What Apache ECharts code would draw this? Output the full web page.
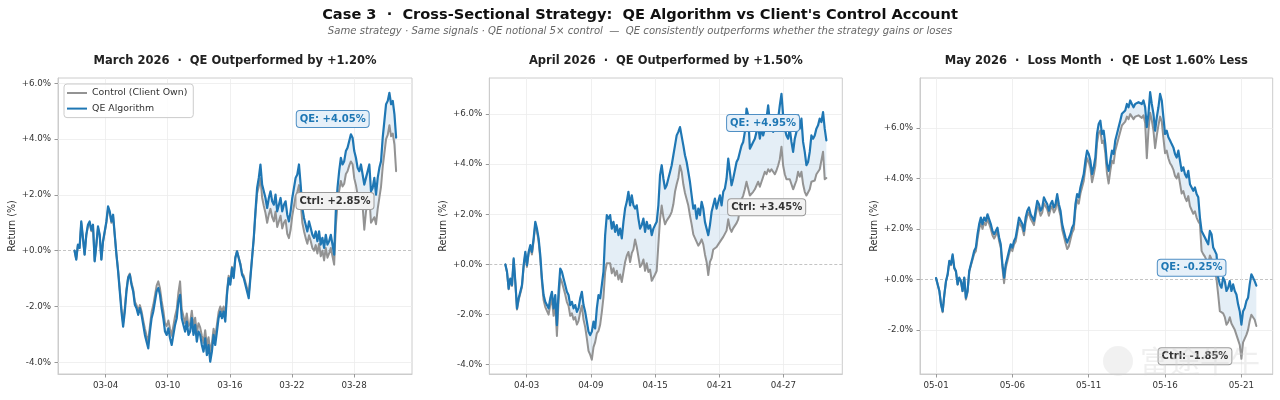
<!DOCTYPE html>
<html><head><meta charset="utf-8">
<script src="https://cdn.jsdelivr.net/npm/echarts@6/dist/echarts.min.js"></script>
<style>html,body{margin:0;padding:0;background:#fff}#c{width:1280px;height:400px}</style>
</head><body><div id="c"></div>
<script>
// ---- data: cumulative return in %, evenly sampled from 00:00 on the 1st of each month ----
const MARCH_STEP_DAYS = 0.1618;   // days between samples
const APRIL_STEP_DAYS = 0.1555;
const MAY_STEP_DAYS = 0.1087;

const marchQE = [0.0,-0.32,0.22,0.10,1.05,0.46,-0.14,0.57,0.93,1.05,
 0.75,0.93,-0.38,0.22,0.87,0.57,-0.32,0.34,0.69,1.05,
 1.59,1.41,1.05,1.29,0.57,-0.14,-0.74,-1.46,-2.18,-2.72,
 -2.18,-1.46,-0.98,-0.86,-1.22,-1.46,-1.94,-2.06,-2.30,-2.06,
 -2.30,-2.66,-3.02,-3.26,-3.50,-2.90,-2.42,-2.18,-1.82,-1.46,
 -1.34,-1.58,-2.06,-2.42,-2.90,-3.02,-2.78,-3.14,-3.38,-3.02,
 -2.66,-2.42,-1.82,-1.58,-2.42,-2.66,-2.90,-2.54,-3.02,-2.90,
 -2.42,-3.02,-2.66,-3.26,-2.90,-3.02,-3.38,-3.62,-3.14,-3.74,
 -3.38,-3.98,-3.62,-3.02,-3.38,-2.90,-2.42,-2.18,-2.42,-2.18,
 -2.54,-1.58,-0.98,-1.22,-0.62,-0.98,-0.26,-0.02,-0.26,-0.50,
 -0.86,-0.98,-1.22,-1.46,-1.70,-0.98,-0.26,0.46,1.41,2.25,
 2.61,3.09,2.37,2.13,1.89,1.53,1.89,2.13,1.77,1.65,
 2.01,1.41,1.65,1.89,1.41,1.65,1.77,1.29,1.05,1.41,
 1.89,2.25,2.61,2.73,3.09,2.37,1.53,1.17,0.93,0.69,
 1.05,0.81,0.57,0.46,0.69,0.34,0.69,0.22,0.46,0.10,
 0.57,0.22,0.34,0.57,0.22,-0.14,1.41,2.25,2.85,3.33,
 3.09,3.21,3.57,3.69,3.93,4.17,4.05,3.57,3.33,2.97,
 2.85,3.09,2.73,2.37,2.61,2.85,3.09,2.13,2.25,2.61,
 2.01,2.61,2.97,3.21,4.05,4.65,5.25,5.37,5.66,5.25,
 5.37,4.89,4.05];
const marchCtrl = [0.0,-0.30,0.2,0.1,1.0,0.44,-0.13,0.55,0.88,1.0,
 0.7,0.88,-0.36,0.2,0.82,0.55,-0.3,0.32,0.66,1.0,
 1.5,1.35,1.0,1.22,0.55,-0.13,-0.7,-1.38,-2.06,-2.6,
 -2.06,-1.38,-0.93,-0.82,-1.15,-1.38,-1.83,-1.95,-2.17,-1.95,
 -2.17,-2.5,-2.8,-3.05,-3.25,-2.7,-2.2,-1.95,-1.6,-1.25,
 -1.1,-1.35,-1.8,-2.15,-2.6,-2.7,-2.5,-2.8,-3.05,-2.7,
 -2.35,-2.1,-1.5,-1.1,-2.1,-2.35,-2.6,-2.25,-2.7,-2.6,
 -2.15,-2.7,-2.4,-2.95,-2.6,-2.75,-3.05,-3.3,-2.85,-3.4,
 -3.1,-3.65,-3.3,-2.8,-3.1,-2.65,-2.2,-2.0,-2.2,-2.0,
 -2.35,-1.45,-0.9,-1.12,-0.58,-0.9,-0.24,-0.02,-0.24,-0.46,
 -0.8,-0.9,-1.12,-1.35,-1.58,-0.9,-0.24,0.42,1.3,2.05,
 2.3,2.6,1.9,1.6,1.35,1.0,1.3,1.5,1.2,1.05,
 1.4,0.85,1.05,1.25,0.8,1.0,1.1,0.6,0.45,0.75,
 1.25,1.6,1.95,2.1,2.35,1.75,1.0,0.7,0.45,0.25,
 0.55,0.35,0.1,0.0,0.2,-0.1,0.25,-0.2,0.0,-0.35,
 0.1,-0.25,-0.1,0.1,-0.2,-0.5,0.9,1.65,2.15,2.5,
 2.3,2.4,2.75,2.85,3.05,3.2,3.1,2.6,2.35,2.0,
 1.85,2.05,1.6,0.75,1.4,1.7,1.95,1.0,1.1,1.2,
 0.95,1.5,1.9,2.3,3.0,3.5,4.0,4.15,4.5,4.1,
 4.2,3.8,2.85];

const aprilQE = [0.0,-0.29,-0.96,-0.56,-0.82,0.24,-0.69,-1.75,-1.35,-1.09,
 -0.82,-0.03,0.50,-0.03,0.50,0.77,0.50,1.04,1.70,1.43,
 1.04,0.37,-0.56,-1.22,-1.49,-1.62,-1.75,-1.35,-1.09,-1.75,
 -1.22,-2.42,-1.09,-0.16,-0.29,-0.56,-0.82,-1.09,-1.22,-1.62,
 -1.49,-1.75,-1.62,-1.89,-1.75,-1.35,-1.09,-1.62,-1.89,-2.28,
 -2.68,-2.82,-2.68,-2.28,-2.55,-1.75,-1.22,-1.35,-0.82,-0.29,
 1.17,1.97,1.83,1.97,1.43,1.70,1.30,1.57,1.17,1.43,
 1.04,1.70,2.23,2.50,2.90,2.36,2.76,2.36,2.23,2.36,
 1.83,1.43,1.57,1.83,1.30,1.70,1.43,1.57,1.17,1.43,
 1.57,1.70,2.36,3.56,3.96,3.43,3.03,3.16,3.43,3.69,
 3.96,4.36,4.75,5.15,5.29,5.48,5.42,4.75,4.36,4.09,
 3.69,3.29,2.76,2.23,2.36,1.83,2.23,1.97,2.50,2.23,
 1.70,1.43,1.17,1.57,2.10,2.36,2.63,2.23,2.50,2.76,
 2.36,2.90,3.03,3.43,4.22,3.69,3.16,3.43,3.43,4.09,
 4.22,4.49,4.75,4.89,5.29,6.22,5.95,4.62,4.75,4.89,
 5.02,5.29,5.55,5.02,5.42,5.15,5.42,5.82,6.35,5.68,
 5.82,5.29,5.55,5.42,5.82,6.35,6.81,5.95,5.42,5.15,
 5.02,5.42,4.89,4.49,5.02,5.29,5.95,5.42,5.82,4.89,
 4.49,3.96,4.09,4.49,5.15,5.02,5.15,5.42,5.55,5.82,
 5.68,6.08,5.42,4.95];
const aprilCtrl = [0.0,-0.31,-0.99,-0.6,-0.86,0.2,-0.74,-1.8,-1.42,-1.16,
 -0.9,-0.1,0.42,-0.1,0.42,0.68,0.4,0.94,1.6,1.32,
 0.92,0.22,-0.72,-1.42,-1.7,-1.85,-2.0,-1.62,-1.38,-2.05,
 -1.55,-2.85,-1.45,-0.55,-0.7,-0.95,-1.2,-1.5,-1.65,-2.05,
 -1.95,-2.2,-2.1,-2.4,-2.25,-1.9,-1.65,-2.2,-2.5,-2.95,
 -3.45,-3.6,-3.8,-3.3,-3.1,-2.75,-2.65,-2.4,-1.9,-1.3,
 -0.3,0.05,0.1,0.05,-0.35,-0.15,-0.45,-0.25,-0.6,-0.4,
 -0.7,-0.3,0.1,0.35,0.5,0.1,0.45,0.6,1.0,0.7,
 0.3,-0.1,0.0,0.2,-0.25,0.05,-0.3,-0.2,-0.65,-0.7,
 -0.4,-0.25,0.8,1.8,2.35,1.9,1.6,1.75,1.8,1.95,
 2.1,2.4,2.9,3.2,3.45,3.95,3.7,3.2,2.85,2.6,
 2.35,1.95,1.6,1.2,1.2,0.9,0.75,0.85,1.0,0.8,
 0.4,0.1,-0.42,0.1,0.25,0.6,0.65,0.7,0.8,0.9,
 1.0,1.1,1.15,1.35,1.8,1.45,1.3,1.45,1.45,1.65,
 1.8,2.2,2.6,2.75,3.0,3.3,3.3,2.75,2.75,2.9,
 3.0,3.15,3.3,3.1,3.3,3.35,3.7,3.6,3.8,3.7,
 3.8,3.7,3.6,3.75,3.95,4.2,4.7,3.95,3.6,3.4,
 3.4,3.4,3.2,3.0,3.0,3.35,3.7,3.5,3.7,3.2,
 2.9,2.75,2.75,3.0,3.3,3.3,3.35,3.6,3.7,3.8,
 3.8,4.5,3.4,3.45];

const mayQE = [0.05,0.07,-0.46,-0.99,-1.26,-0.60,-0.07,0.20,0.73,0.60,
 0.99,0.46,0.33,-0.20,0.07,-0.07,-0.46,0.07,-0.73,-0.46,
 0.33,0.60,0.86,1.13,1.26,1.79,2.19,2.45,2.19,2.45,
 2.32,2.58,2.65,2.19,1.92,1.79,1.92,2.05,1.66,1.39,
 0.60,0.07,0.60,0.86,1.13,1.39,1.26,1.52,1.66,2.05,
 2.45,2.32,2.19,1.92,2.45,2.72,2.85,2.58,2.45,2.32,
 2.72,3.11,2.98,2.72,2.85,3.25,3.11,2.98,2.72,2.98,
 3.11,2.85,2.98,3.38,2.98,2.72,2.19,1.92,1.66,1.46,
 1.52,1.79,2.05,2.19,2.98,3.38,3.25,3.64,3.91,4.17,
 4.70,5.10,4.97,4.70,4.17,4.44,4.83,5.76,6.16,6.29,
 5.76,5.89,5.36,4.57,4.30,4.70,5.10,4.97,5.50,5.76,
 6.03,6.29,6.56,6.56,6.69,6.95,6.82,7.09,6.95,6.82,
 6.95,6.89,7.02,6.95,6.95,7.09,6.82,6.03,6.56,7.42,
 6.95,6.56,5.89,6.42,6.82,7.35,7.09,6.42,5.76,5.89,
 5.63,5.50,5.36,5.23,4.97,4.83,5.10,4.70,4.30,4.44,
 4.17,4.04,4.30,3.77,3.64,3.51,3.64,3.38,3.25,2.45,
 1.92,1.79,1.66,1.52,1.39,1.92,1.79,1.26,1.13,0.99,
 0.07,-0.20,-0.33,0.07,-0.07,-0.46,-0.33,-0.07,-0.46,-0.20,
 -0.46,-0.60,-0.99,-1.26,-1.79,-1.26,-1.13,-0.86,-0.73,-0.20,
 0.20,0.07,-0.07,-0.25];
const mayCtrl = [0.05,0.06,-0.45,-0.98,-1.3,-0.62,-0.08,0.18,0.68,0.56,
 0.93,0.43,0.3,-0.2,0.05,-0.08,-0.47,0.05,-0.8,-0.5,
 0.3,0.55,0.78,1.02,1.12,1.6,2.0,2.25,2.0,2.25,
 2.15,2.4,2.45,2.0,1.75,1.62,1.75,1.9,1.52,1.25,
 0.45,-0.15,0.45,0.72,1.0,1.25,1.12,1.38,1.5,1.88,
 2.25,2.15,2.02,1.75,2.25,2.52,2.65,2.4,2.28,2.15,
 2.52,2.9,2.78,2.52,2.65,3.02,2.9,2.78,2.52,2.78,
 2.9,2.65,2.78,3.15,2.78,2.52,1.98,1.72,1.45,1.2,
 1.3,1.58,1.85,1.98,2.75,3.15,3.0,3.4,3.65,3.9,
 4.4,4.8,4.65,4.4,3.85,4.15,4.5,5.4,5.8,5.9,
 5.4,5.5,5.0,4.2,3.8,4.3,4.7,4.6,5.1,5.35,
 5.6,5.85,6.1,6.1,6.25,6.45,6.35,6.55,6.45,6.35,
 6.45,6.4,6.5,6.45,6.4,6.5,6.2,4.8,5.9,6.6,
 6.3,5.9,5.2,5.7,6.1,6.45,6.25,5.6,5.0,5.1,
 4.8,4.6,4.5,4.35,4.1,4.0,4.2,3.8,3.4,3.5,
 3.25,3.1,3.3,2.9,2.75,2.6,2.7,2.45,2.3,2.2,
 1.13,1.0,0.9,0.75,0.6,0.95,0.8,0.55,0.35,0.0,
 -0.6,-1.26,-1.3,-1.35,-1.5,-1.8,-1.7,-1.5,-1.75,-1.8,
 -2.0,-2.2,-2.4,-2.6,-3.15,-2.5,-2.35,-2.2,-2.0,-1.65,
 -1.4,-1.5,-1.6,-1.85];

// tick positions (days since the 1st) and labels
const marchTicks = [3,9,15,21,27];
const marchTickLabels = ['03-04','03-10','03-16','03-22','03-28'];
const aprilTicks = [2,8,14,20,26];
const aprilTickLabels = ['04-03','04-09','04-15','04-21','04-27'];
const mayTicks = [0,5,10,15,20];
const mayTickLabels = ['05-01','05-06','05-11','05-16','05-21'];
const yTicks1 = [-4,-2,0,2,4,6];
const yTicks2 = [-4,-2,0,2,4,6];
const yTicks3 = [-2,0,2,4,6];

const mainTitle = "Case 3  \u00b7  Cross-Sectional Strategy:  QE Algorithm vs Client's Control Account";
const subTitle = "Same strategy \u00b7 Same signals \u00b7 QE notional 5\u00d7 control  \u2014  QE consistently outperforms whether the strategy gains or loses";
const panelTitles = ["March 2026  \u00b7  QE Outperformed by +1.20%", "April 2026  \u00b7  QE Outperformed by +1.50%", "May 2026  \u00b7  Loss Month  \u00b7  QE Lost 1.60% Less"];
const CTRL_NAME = 'Control (Client Own)';
const QE_NAME = 'QE Algorithm';

// ---- layout / style ----
const FONT = '"DejaVu Sans", sans-serif';
const BLUE = '#1f77b4', GREY = '#939393';
const panels = [
  {qe: marchQE, ctrl: marchCtrl, step: MARCH_STEP_DAYS, ticks: marchTicks, tickLabels: marchTickLabels, yTicks: yTicks1,
   grid: {left: 58, top: 78, width: 354, height: 296}, xr: [-1.6, 32.6], yr: [-4.42, 6.19],
   qeAt: [24.94, 4.72], ctrlAt: [25.16, 1.78]},
  {qe: aprilQE, ctrl: aprilCtrl, step: APRIL_STEP_DAYS, ticks: aprilTicks, tickLabels: aprilTickLabels, yTicks: yTicks2,
   grid: {left: 489.3, top: 78, width: 353, height: 296}, xr: [-1.5, 31.5], yr: [-4.37, 7.44],
   qeAt: [24.09, 5.64], ctrlAt: [24.43, 2.28]},
  {qe: mayQE, ctrl: mayCtrl, step: MAY_STEP_DAYS, ticks: mayTicks, tickLabels: mayTickLabels, yTicks: yTicks3,
   grid: {left: 920, top: 78, width: 352.7, height: 296}, xr: [-1.05, 22.05], yr: [-3.75, 7.98],
   qeAt: [16.74, 0.46], ctrlAt: [16.96, -3.05]}
];

const fmtPct = v => (v >= 0 ? '+' : '-') + Math.abs(v).toFixed(2) + '%';
const grids = [], xAxes = [], yAxes = [], series = [], graphics = [];

panels.forEach((p, i) => {
  grids.push(Object.assign({show: true, borderColor: '#cccccc', borderWidth: 1, backgroundColor: '#fff'}, p.grid));
  xAxes.push({type: 'value', gridIndex: i, min: p.xr[0], max: p.xr[1],
    axisLine: {show: true, onZero: false, lineStyle: {color: '#cccccc'}},
    axisTick: {show: true, customValues: p.ticks, length: 3.5, lineStyle: {color: '#999'}},
    axisLabel: {customValues: p.ticks, margin: 7, fontSize: 8.7, color: '#333', fontFamily: FONT,
      formatter: v => { const k = p.ticks.findIndex(t => Math.abs(t - v) < 1e-6); return k >= 0 ? p.tickLabels[k] : ''; }},
    splitLine: {show: false}});
  yAxes.push({type: 'value', gridIndex: i, min: p.yr[0], max: p.yr[1],
    name: 'Return (%)', nameLocation: 'middle', nameGap: 41,
    nameTextStyle: {fontSize: 9.6, color: '#333', fontFamily: FONT},
    axisLine: {show: true, onZero: false, lineStyle: {color: '#cccccc'}},
    axisTick: {show: true, customValues: p.yTicks, length: 3.5, lineStyle: {color: '#999'}},
    axisLabel: {customValues: p.yTicks, margin: 7, fontSize: 8.7, color: '#333', fontFamily: FONT,
      formatter: v => (v >= 0 ? '+' : '-') + Math.abs(v).toFixed(1) + '%'},
    splitLine: {show: false}});

  const t = p.qe.map((_, k) => k * p.step);

  const gridLines = [];
  p.yTicks.forEach(v => {
    if (v === 0) gridLines.push({yAxis: v, lineStyle: {color: '#bdbdbd', type: [3, 2], width: 0.9}});
    else gridLines.push({yAxis: v});
  });
  p.ticks.forEach(v => gridLines.push({xAxis: v}));

  // shaded band between the two curves
  series.push({type: 'custom', xAxisIndex: i, yAxisIndex: i, silent: true, z: 2, clip: true,
    data: t.map((x, k) => [x, p.qe[k], p.ctrl[k]]),
    encode: {x: 0, y: [1, 2]},
    renderItem: (params, api) => {
      if (params.dataIndex !== 0) return null;
      const up = t.map((x, k) => api.coord([x, p.qe[k]]));
      const dn = t.map((x, k) => api.coord([x, p.ctrl[k]])).reverse();
      return {type: 'polygon', shape: {points: up.concat(dn)}, style: {fill: 'rgba(31,119,180,0.12)'}};
    }});

  const ctrlEnd = p.ctrl[p.ctrl.length - 1], qeEnd = p.qe[p.qe.length - 1];
  series.push({name: CTRL_NAME, type: 'line', xAxisIndex: i, yAxisIndex: i, data: t.map((x, k) => [x, p.ctrl[k]]),
    symbol: 'none', showSymbol: false, z: 3, lineStyle: {color: GREY, width: 2.0, join: 'round', cap: 'round'}, itemStyle: {color: GREY},
    markLine: {silent: true, z: 1, symbol: ['none', 'none'], label: {show: false}, animation: false,
      emphasis: {disabled: true}, lineStyle: {color: '#ececec', width: 0.8, type: 'solid'}, data: gridLines},
    markPoint: {silent: true, z: 10, symbol: 'rect', symbolSize: 1, itemStyle: {color: 'rgba(0,0,0,0)'},
      data: [{coord: p.ctrlAt, value: 'Ctrl: ' + fmtPct(ctrlEnd)}],
      label: {show: true, position: 'inside', formatter: '{c}', fontFamily: FONT, fontSize: 10, fontWeight: 'bold',
        color: '#333', backgroundColor: '#f2f2f2', borderColor: '#9a9a9a', borderWidth: 1, borderRadius: 3,
        padding: [2, 3, 2, 3], lineHeight: 12}}});
  series.push({name: QE_NAME, type: 'line', xAxisIndex: i, yAxisIndex: i, data: t.map((x, k) => [x, p.qe[k]]),
    symbol: 'none', showSymbol: false, z: 4, lineStyle: {color: BLUE, width: 2.2, join: 'round', cap: 'round'}, itemStyle: {color: BLUE},
    markPoint: {silent: true, z: 10, symbol: 'rect', symbolSize: 1, itemStyle: {color: 'rgba(0,0,0,0)'},
      data: [{coord: p.qeAt, value: 'QE: ' + fmtPct(qeEnd)}],
      label: {show: true, position: 'inside', formatter: '{c}', fontFamily: FONT, fontSize: 10, fontWeight: 'bold',
        color: BLUE, backgroundColor: '#e6f0f9', borderColor: '#4f8fc4', borderWidth: 1, borderRadius: 3,
        padding: [2, 3, 2, 3], lineHeight: 12}}});

  graphics.push({type: 'text', x: p.grid.left + p.grid.width / 2, y: 61, z: 10,
    style: {text: panelTitles[i], font: 'bold 11.5px ' + FONT, fill: '#222', textAlign: 'center', textVerticalAlign: 'middle'}});
});

graphics.push({type: 'text', x: 640, y: 15, z: 10,
  style: {text: mainTitle, font: 'bold 14.6px ' + FONT, fill: '#111', textAlign: 'center', textVerticalAlign: 'middle'}});
graphics.push({type: 'text', x: 640, y: 31, z: 10,
  style: {text: subTitle, font: 'italic 10.1px ' + FONT, fill: '#666', textAlign: 'center', textVerticalAlign: 'middle'}});
// faint watermark
graphics.push({type: 'circle', shape: {cx: 1118, cy: 361, r: 15}, z: 20, silent: true, style: {fill: 'rgba(210,210,210,0.3)'}});
graphics.push({type: 'text', x: 1140, y: 361, z: 20, silent: true,
  style: {text: '富途牛牛', font: '30px "Noto Sans CJK SC"', fill: 'rgba(210,210,210,0.35)', textAlign: 'left', textVerticalAlign: 'middle'}});

const chart = echarts.init(document.getElementById('c'), null, {renderer: 'canvas'});
chart.setOption({
  animation: false,
  backgroundColor: '#fff',
  textStyle: {fontFamily: FONT},
  grid: grids, xAxis: xAxes, yAxis: yAxes, series: series, graphic: graphics,
  legend: {data: [CTRL_NAME, QE_NAME], orient: 'vertical', left: 64, top: 84,
    padding: [3, 6, 3, 3], itemWidth: 20, itemHeight: 2, itemGap: 3.6, icon: 'rect',
    backgroundColor: 'rgba(255,255,255,0.85)', borderColor: '#cccccc', borderWidth: 1, borderRadius: 3,
    textStyle: {fontSize: 9.4, color: '#333', fontFamily: FONT, lineHeight: 12}, selectedMode: false}
});
</script></body></html>
